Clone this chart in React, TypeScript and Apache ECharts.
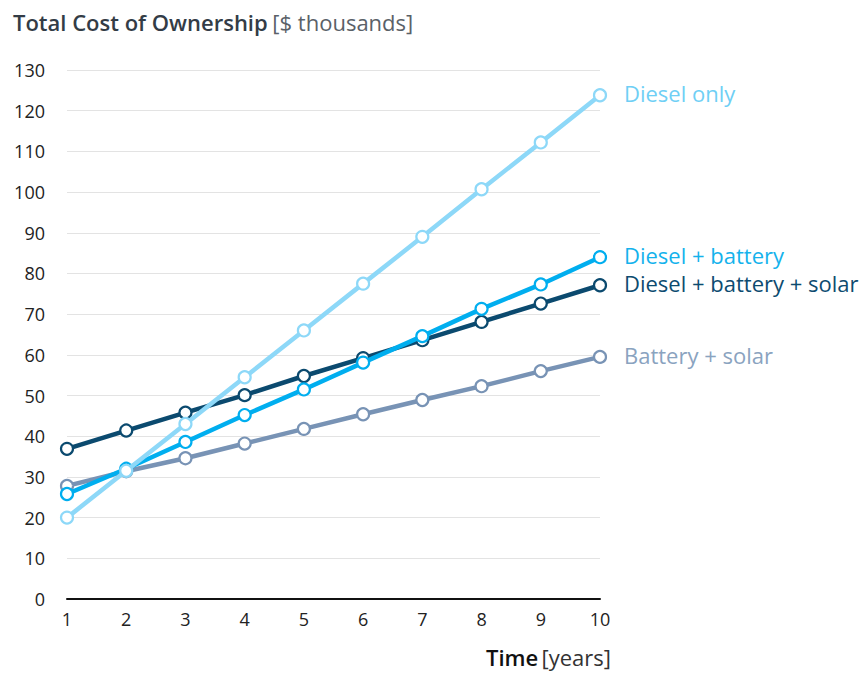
import React, { useEffect, useRef } from "react";
import * as echarts from "echarts";

const years = ["1", "2", "3", "4", "5", "6", "7", "8", "9", "10"];
const dieselOnly = [20, 31.5, 43, 54.5, 66, 77.5, 89, 100.7, 112.2, 123.8];
const dieselBattery = [25.8, 32, 38.6, 45.2, 51.5, 58.1, 64.6, 71.3, 77.3, 84];
const dieselBatterySolar = [36.9, 41.4, 45.8, 50.1, 54.8, 59.2, 63.6, 68.1, 72.6, 77.1];
const batterySolar = [27.8, 31.4, 34.6, 38.2, 41.8, 45.4, 48.9, 52.3, 56, 59.5];

const seriesNames = ["Diesel only", "Diesel + battery", "Diesel + battery + solar", "Battery + solar"];
const seriesColors = ["#8dd8f8", "#00aeef", "#0b4a6f", "#7893b5"];
const labelColors = ["#6fcff5", "#14b2ec", "#0d4b70", "#8aa3bf"];
const seriesData = [dieselOnly, dieselBattery, dieselBatterySolar, batterySolar];

const FONT = "'Open Sans', 'Noto Sans', sans-serif";

export default function App() {
  const ref = useRef<HTMLDivElement>(null);
  useEffect(() => {
    if (!ref.current) return;
    const chart = echarts.init(ref.current, null, { renderer: "svg" });
    chart.setOption({
      animation: false,
      backgroundColor: "#ffffff",
      textStyle: { fontFamily: FONT },
      grid: { left: 67, right: 260, top: 70, bottom: 74, containLabel: false },
      title: {
        left: 8,
        top: 6,
        text: "{b|Total Cost of Ownership} {n|[$ thousands]}",
        textStyle: {
          rich: {
            b: { fontFamily: FONT, fontSize: 22, fontWeight: 600, color: "#333c46" },
            n: { fontFamily: FONT, fontSize: 22, fontWeight: 400, color: "#5a6168" },
          },
        },
      },
      xAxis: {
        type: "category",
        data: years,
        boundaryGap: false,
        axisLine: { show: true, lineStyle: { color: "#111", width: 2 } },
        axisTick: { show: false },
        axisLabel: { color: "#222", fontSize: 18, fontFamily: FONT, margin: 11 },
        splitLine: { show: false },
      },
      yAxis: {
        type: "value",
        min: 0,
        max: 130,
        interval: 10,
        axisLine: { show: false },
        axisTick: { show: false },
        axisLabel: { color: "#222", fontSize: 18, fontFamily: FONT, margin: 22 },
        splitLine: { show: true, lineStyle: { color: "#e3e3e3", width: 1 } },
      },
      graphic: [
        {
          type: "text",
          right: 860 - 611,
          top: 646,
          style: {
            text: "{b|Time} {n|[years]}",
            rich: {
              b: { fontFamily: FONT, fontSize: 22, fontWeight: 600, fill: "#111" },
              n: { fontFamily: FONT, fontSize: 22, fontWeight: 400, fill: "#333" },
            },
          },
        },
      ],
      series: seriesNames.map((name, i) => ({
        name,
        type: "line",
        data: seriesData[i],
        z: 10 - i,
        symbol: "circle",
        symbolSize: 12,
        showAllSymbol: true,
        lineStyle: { color: seriesColors[i], width: 4.5 },
        itemStyle: { color: "#ffffff", borderColor: seriesColors[i], borderWidth: 2.2 },
        endLabel: {
          show: true,
          formatter: "{a}",
          distance: 24,
          offset: [0, -2],
          color: labelColors[i],
          fontSize: 22,
          fontFamily: FONT,
        },
        emphasis: { disabled: true },
      })),
    });
    return () => chart.dispose();
  }, []);
  return (
    <div
      ref={ref}
      style={{ position: "fixed", left: 0, top: 0, width: 860, height: 673, background: "#fff" }}
    />
  );
}
